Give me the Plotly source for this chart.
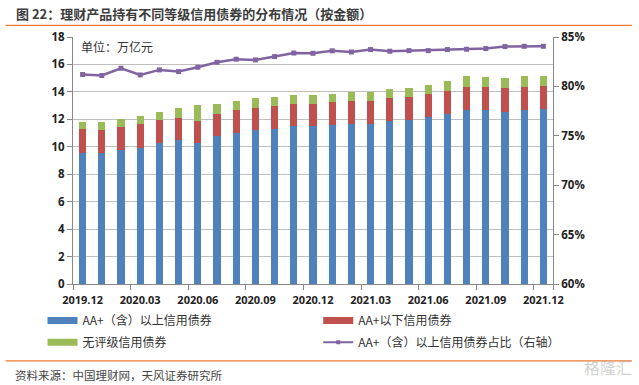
import plotly.graph_objects as go

# ---------------- data ----------------
months = ["2019.12", "2020.01", "2020.02", "2020.03", "2020.04", "2020.05", "2020.06",
          "2020.07", "2020.08", "2020.09", "2020.10", "2020.11", "2020.12",
          "2021.01", "2021.02", "2021.03", "2021.04", "2021.05", "2021.06",
          "2021.07", "2021.08", "2021.09", "2021.10", "2021.11", "2021.12"]
tick_labels = ["2019.12", "2020.03", "2020.06", "2020.09", "2020.12",
               "2021.03", "2021.06", "2021.09", "2021.12"]

aa_plus_above = [9.56, 9.54, 9.76, 9.93, 10.29, 10.46, 10.24, 10.80, 11.02, 11.19, 11.29, 11.50, 11.48,
                 11.60, 11.67, 11.67, 11.89, 11.96, 12.16, 12.38, 12.67, 12.67, 12.52, 12.71, 12.76]
aa_plus_below = [1.75, 1.67, 1.65, 1.72, 1.67, 1.67, 1.65, 1.62, 1.65, 1.67, 1.69, 1.65, 1.65,
                 1.67, 1.70, 1.70, 1.67, 1.68, 1.69, 1.71, 1.72, 1.69, 1.75, 1.68, 1.68]
unrated = [0.49, 0.56, 0.58, 0.60, 0.56, 0.71, 1.14, 0.68, 0.63, 0.68, 0.63, 0.65, 0.65,
           0.58, 0.65, 0.63, 0.68, 0.67, 0.68, 0.71, 0.75, 0.76, 0.75, 0.75, 0.75]
aa_plus_share = [0.8120, 0.8110, 0.8184, 0.8116, 0.8167, 0.8150, 0.8194, 0.8244, 0.8275, 0.8268,
                 0.8302, 0.8338, 0.8335, 0.8360, 0.8348, 0.8373, 0.8356, 0.8362, 0.8362, 0.8373,
                 0.8376, 0.8383, 0.8403, 0.8406, 0.8406]

names = ["AA+（含）以上信用债券", "AA+以下信用债券", "无评级信用债券", "AA+（含）以上信用债券占比（右轴）"]
colors = ["#4F81BD", "#C0504D", "#9BBB59", "#8064A2"]

# ---------------- layout geometry (px) ----------------
W, H = 639, 385
L, R = 72.5, 553.0
T, B = 36.7, 284.5
PW, PH = R - L, B - T


def px(x):
    return (x - L) / PW


def py(y):
    return (B - y) / PH


CJK = "Noto Sans CJK SC"
NUM = "Open Sans"

fig = go.Figure()

for vals, nm, col in zip([aa_plus_above, aa_plus_below, unrated], names[:3], colors[:3]):
    fig.add_trace(go.Bar(x=months, y=vals, name=nm, marker=dict(color=col, line=dict(width=0)),
                         showlegend=False, yaxis="y"))

fig.add_trace(go.Scatter(x=months, y=aa_plus_share, name=names[3], mode="lines+markers",
                         line=dict(color=colors[3], width=2.5),
                         marker=dict(symbol="square", size=5, color=colors[3]),
                         yaxis="y2", showlegend=False))

# legend entries (wide swatches like the original)
legend_ids = ["legend", "legend2", "legend3", "legend4"]
for i, (nm, col) in enumerate(zip(names, colors)):
    if i < 3:
        fig.add_trace(go.Scatter(x=[None], y=[None], name=nm, mode="lines",
                                 line=dict(color=col, width=7), legend=legend_ids[i]))
    else:
        fig.add_trace(go.Scatter(x=[None], y=[None], name=nm, mode="lines+markers",
                                 line=dict(color=col, width=2),
                                 marker=dict(symbol="square", size=4, color=col),
                                 legend=legend_ids[i]))

leg_font = dict(family=CJK, size=12, color="#333333")
leg_pos = [(42, 321), (318, 321), (42, 343), (318, 343)]
legends = {}
for lid, (lx, ly) in zip(legend_ids, leg_pos):
    legends[lid] = dict(x=px(lx), y=py(ly), xanchor="left", yanchor="middle",
                        bgcolor="rgba(0,0,0,0)", font=leg_font, itemwidth=30,
                        tracegroupgap=0, orientation="v")

fig.update_layout(
    width=W, height=H,
    margin=dict(l=L, r=W - R, t=T, b=H - B, pad=0, autoexpand=False),
    paper_bgcolor="white", plot_bgcolor="white",
    barmode="stack", bargap=0.62,
    showlegend=True,
    xaxis=dict(type="category", tickmode="array", tickvals=tick_labels, ticktext=tick_labels,
               tickson="boundaries", ticks="outside", ticklen=5, tickcolor="#888888",
               tickangle=0, automargin=False, ticklabelstandoff=6,
               showline=True, linecolor="#888888", linewidth=1, showgrid=False,
               tickfont=dict(family=NUM, size=11, color="#222222", weight="bold"),
               range=[-0.5, len(months) - 0.5]),
    yaxis=dict(range=[0, 18], dtick=2, showgrid=True, gridcolor="#BFBFBF", gridwidth=1,
               showline=True, linecolor="#888888", linewidth=1, ticks="outside", ticklen=5,
               tickcolor="#888888", zeroline=False, automargin=False,
               tickfont=dict(family=NUM, size=11.5, color="#222222", weight="bold")),
    yaxis2=dict(range=[0.60, 0.85], dtick=0.05, tickformat=".0%", overlaying="y", side="right",
                showgrid=False, showline=True, linecolor="#888888", linewidth=1, ticks="outside",
                ticklen=5, tickcolor="#888888", zeroline=False, automargin=False,
                tickfont=dict(family=NUM, size=11.5, color="#222222", weight="bold")),
    **legends,
)

# title, unit label, source, watermark
fig.add_annotation(text="图 22：理财产品持有不同等级信用债券的分布情况（按金额）",
                   xref="paper", yref="paper", x=px(13), y=py(13), xanchor="left", yanchor="middle",
                   showarrow=False, font=dict(family=CJK, size=13, color="#3C3C3C", weight="bold"))
fig.add_annotation(text="单位：万亿元", xref="paper", yref="paper", x=px(79), y=py(46),
                   xanchor="left", yanchor="middle", showarrow=False,
                   font=dict(family=CJK, size=12, color="#333333"))
fig.add_annotation(text="资料来源：中国理财网，天风证券研究所", xref="paper", yref="paper",
                   x=px(12), y=py(375.5), xanchor="left", yanchor="middle", showarrow=False,
                   font=dict(family=CJK, size=11.5, color="#444444"))
fig.add_annotation(text="格隆汇", xref="paper", yref="paper", x=px(634), y=py(368),
                   xanchor="right", yanchor="middle", showarrow=False,
                   font=dict(family=CJK, size=16, color="rgba(170,170,170,0.55)"))

# orange rules
for yy in (25, 361.7):
    fig.add_shape(type="line", xref="paper", yref="paper", x0=px(5), x1=px(632), y0=py(yy), y1=py(yy),
                  line=dict(color="#EE7B30", width=1.3))

fig.write_html("out.html", config={"displayModeBar": False},
               post_script="document.body.style.margin='0';document.body.style.overflow='hidden';")
